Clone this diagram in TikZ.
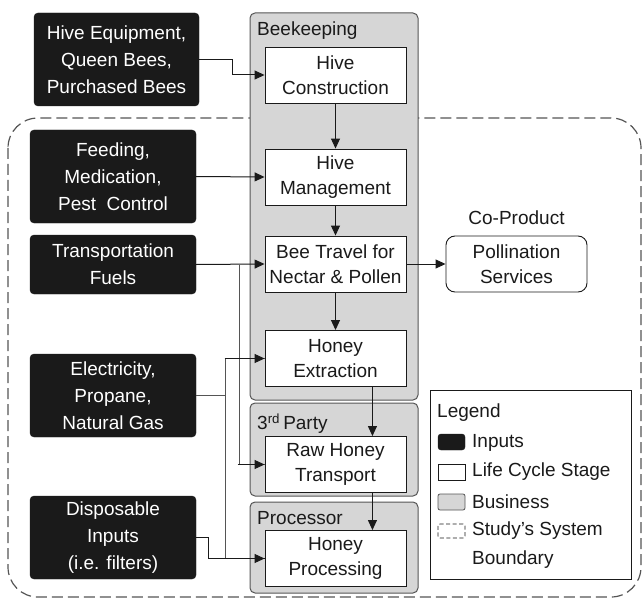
\documentclass[tikz,border=0pt]{standalone}
\usepackage{fontspec}
\setmainfont{Liberation Sans}
\usetikzlibrary{arrows.meta,calc}
\definecolor{inkc}{HTML}{1A1A1A}
\definecolor{bizgray}{HTML}{D6D6D6}
\definecolor{bizline}{HTML}{555555}
\definecolor{dashc}{HTML}{555555}
\tikzset{
  base/.style={font=\fontsize{19}{27}\selectfont, align=center, inner sep=0pt},
  inputbox/.style={base, fill=inkc, draw=inkc, text=white, rounded corners=4pt, minimum width=166pt},
  bizbox/.style={fill=bizgray, draw=bizline, line width=1pt, rounded corners=5pt, minimum width=168pt, inner sep=0pt},
  stagebox/.style={base, fill=white, draw=inkc, line width=0.9pt, minimum width=141pt, minimum height=56pt, font=\fontsize{19}{25}\selectfont, text=inkc},
  coprod/.style={stagebox, rounded corners=9pt},
  lbl/.style={font=\fontsize{19}{23}\selectfont, text=inkc, inner sep=0pt},
  conn/.style={draw=inkc, line width=1pt},
  arr/.style={conn, -{Triangle[length=10pt,width=9pt]}},
  greyline/.style={draw=bizline, line width=1pt},
}
\begin{document}
\begin{tikzpicture}[x=1pt,y=-1pt]
\useasboundingbox (0,0) rectangle (643,599);

% system boundary
\draw[dashc, line width=1.2pt, dash pattern=on 11pt off 5pt, rounded corners=30pt] (8,118) rectangle (641,597);

% business boxes
\node[bizbox, minimum height=387pt] (g1) at (334,206.5) {};
\node[bizbox, minimum height=93pt] (g2) at (334,449.5) {};
\node[bizbox, minimum height=91pt] (g3) at (334,547.5) {};
\node[lbl, anchor=west] (g1l) at (257,31) {Beekeeping};
\node[lbl, anchor=west] (g2l) at (257,424) {3\textsuperscript{rd}\,Party};
\node[lbl, anchor=west] (g3l) at (257,518) {Processor};

% inputs
\node[inputbox, minimum width=165pt, minimum height=93pt] (in1) at (116.5,59.5) {Hive Equipment,\\Queen Bees,\\Purchased Bees};
\node[inputbox, minimum height=93pt] (in2) at (113,176.5) {Feeding,\\Medication,\\Pest\ \ Control};
\node[inputbox, minimum height=59pt] (in3) at (113,264.5) {Transportation\\Fuels};
\node[inputbox, minimum height=83pt] (in4) at (113,395.5) {Electricity,\\Propane,\\Natural Gas};
\node[inputbox, minimum height=83pt] (in5) at (113,537.5) {Disposable\\Inputs\\(i.e. filters)};

% stages
\node[stagebox] (s1) at (335.5,75) {Hive\\Construction};
\node[stagebox] (s2) at (335.5,177) {Hive\\Management};
\node[stagebox] (s3) at (335.5,264) {Bee Travel for\\Nectar \& Pollen};
\node[stagebox] (s4) at (335.5,358.5) {Honey\\Extraction};
\node[stagebox] (s5) at (335.5,464.5) {Raw Honey\\Transport};
\node[stagebox] (s6) at (335.5,558.5) {Honey\\Processing};

% co-product
\node[lbl] (cpl) at (516.5,218) {Co-Product};
\node[coprod] (cp) at (516.5,264) {Pollination\\Services};

% connectors
\coordinate (e) at (225,395.5);
\coordinate (t) at (239,264.5);
\draw[greyline] (t) |- (s5.west);
\draw[greyline] (in4.east) -- (e);
\draw[greyline] (e) |- (s4.west);
\draw[greyline] (e) |- (s6.west);
\draw[arr] (in1.east) -- ++(33,0) |- (s1.west);
\draw[arr] (in2.east) -- (s2.west);
\draw[arr] (in3.east) -- (s3.west);
\draw[arr] ($(s4.west)+(-40,0)$) -- (s4.west);
\draw[arr] ($(s5.west)+(-27,0)$) -- (s5.west);
\draw[conn] (in5.east) -- ++(12,0) |- (s6.west);
\draw[arr] ($(s6.west)+(-40,0)$) -- (s6.west);
\draw[arr] (s1.south) -- (s2.north);
\draw[arr] (s2.south) -- (s3.north);
\draw[arr] (s3.south) -- (s4.north);
\draw[arr] ([xshift=-34pt]s4.south east) -- ([xshift=-34pt]s5.north east);
\draw[arr] ([xshift=-34pt]s5.south east) -- ([xshift=-34pt]s6.north east);
\draw[arr] (s3.east) -- (cp.west);

% legend
\node[draw=inkc, line width=0.9pt, minimum width=201pt, minimum height=189pt, inner sep=0pt] (lg) at (530.5,484.5) {};
\node[lbl, anchor=west] (lgt) at (437,413) {Legend};
\node[fill=inkc, draw=inkc, rounded corners=3pt, minimum width=27pt, minimum height=16pt, inner sep=0pt] (k1) at (451.5,442) {};
\node[lbl, anchor=west] (k1t) at (472,443) {Inputs};
\node[fill=white, draw=inkc, line width=0.8pt, minimum width=27pt, minimum height=16pt, inner sep=0pt] (k2) at (451.5,472) {};
\node[lbl, anchor=west] (k2t) at (472,472) {Life Cycle Stage};
\node[fill=bizgray, draw=bizline, line width=0.8pt, rounded corners=2pt, minimum width=27pt, minimum height=16pt, inner sep=0pt] (k3) at (451.5,502) {};
\node[lbl, anchor=west] (k3t) at (472,502) {Business};
\node[draw=inkc, line width=0.8pt, dash pattern=on 4pt off 2.5pt, rounded corners=2pt, minimum width=27pt, minimum height=14pt, inner sep=0pt] (k4) at (451.5,531) {};
\node[lbl, anchor=west] (k4t) at (472,531) {Study’s System};
\node[lbl, anchor=west] (k4u) at (472,560) {Boundary};
\end{tikzpicture}
\end{document}
